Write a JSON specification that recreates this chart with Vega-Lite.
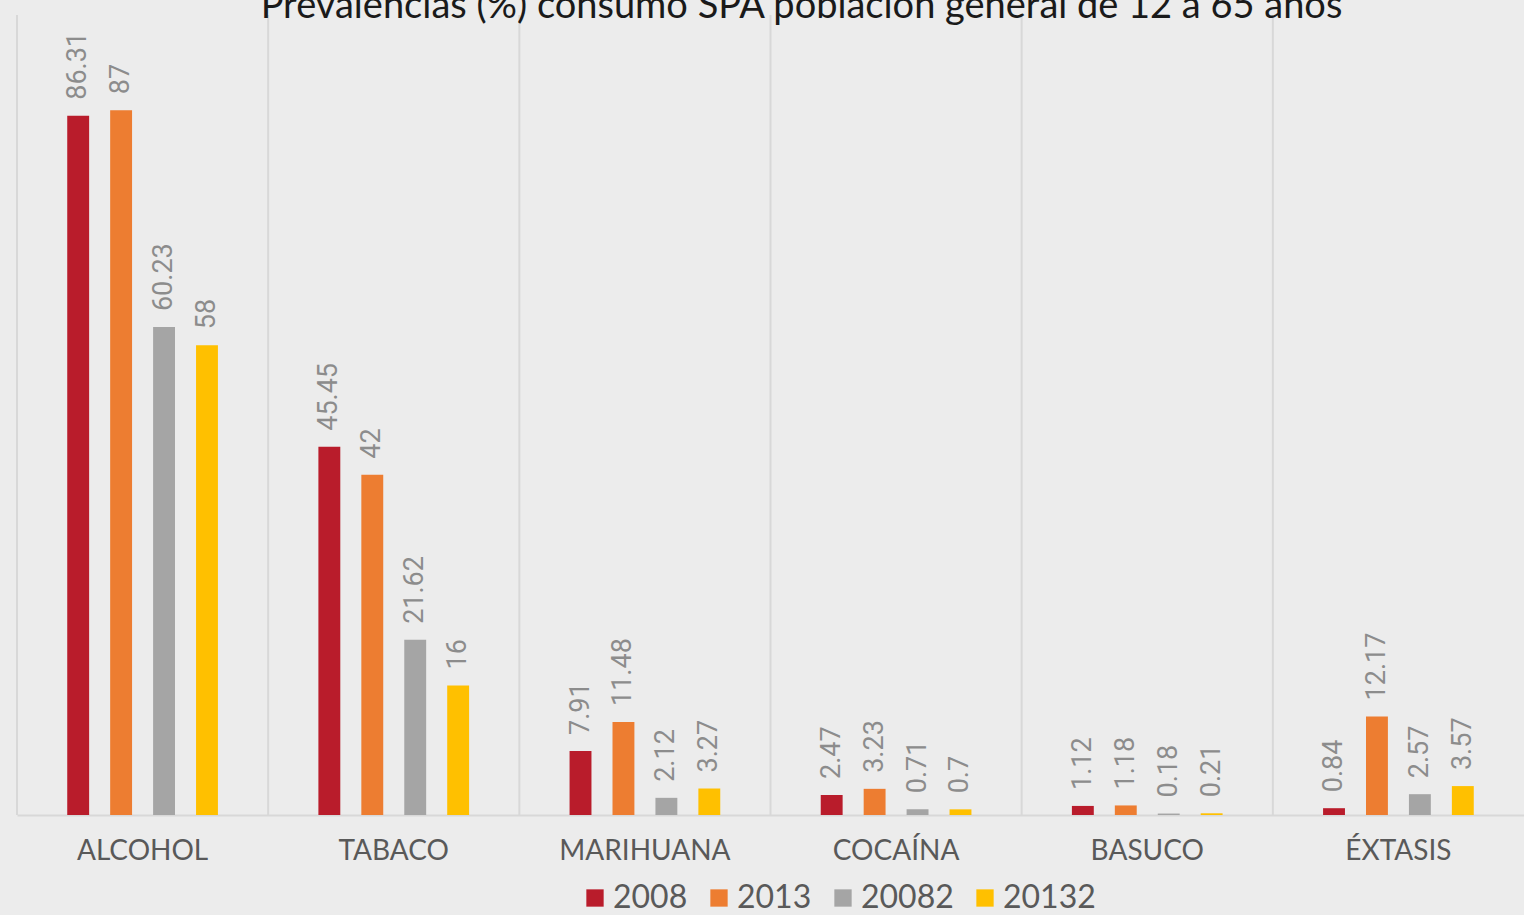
{
  "$schema": "https://vega.github.io/schema/vega-lite/v6.json",
  "width": 1507,
  "height": 800,
  "autosize": {"type": "none"},
  "padding": {"left": 17, "top": 15, "right": 0, "bottom": 100},
  "background": "#ececec",
  "title": {
    "text": "Prevalencias (%) consumo SPA población general de 12 a 65 años",
    "fontSize": 38,
    "font": "Lato",
    "fontWeight": "normal",
    "color": "#1a1a1a",
    "anchor": "middle",
    "offset": 0,
    "baseline": "alphabetic",
    "dx": 31,
    "dy": 42
  },
  "data": {
    "values": [
      {"sustancia": "ALCOHOL", "serie": "2008", "valor": 86.31},
      {"sustancia": "ALCOHOL", "serie": "2013", "valor": 87},
      {"sustancia": "ALCOHOL", "serie": "20082", "valor": 60.23},
      {"sustancia": "ALCOHOL", "serie": "20132", "valor": 58},
      {"sustancia": "TABACO", "serie": "2008", "valor": 45.45},
      {"sustancia": "TABACO", "serie": "2013", "valor": 42},
      {"sustancia": "TABACO", "serie": "20082", "valor": 21.62},
      {"sustancia": "TABACO", "serie": "20132", "valor": 16},
      {"sustancia": "MARIHUANA", "serie": "2008", "valor": 7.91},
      {"sustancia": "MARIHUANA", "serie": "2013", "valor": 11.48},
      {"sustancia": "MARIHUANA", "serie": "20082", "valor": 2.12},
      {"sustancia": "MARIHUANA", "serie": "20132", "valor": 3.27},
      {"sustancia": "COCAÍNA", "serie": "2008", "valor": 2.47},
      {"sustancia": "COCAÍNA", "serie": "2013", "valor": 3.23},
      {"sustancia": "COCAÍNA", "serie": "20082", "valor": 0.71},
      {"sustancia": "COCAÍNA", "serie": "20132", "valor": 0.7},
      {"sustancia": "BASUCO", "serie": "2008", "valor": 1.12},
      {"sustancia": "BASUCO", "serie": "2013", "valor": 1.18},
      {"sustancia": "BASUCO", "serie": "20082", "valor": 0.18},
      {"sustancia": "BASUCO", "serie": "20132", "valor": 0.21},
      {"sustancia": "ÉXTASIS", "serie": "2008", "valor": 0.84},
      {"sustancia": "ÉXTASIS", "serie": "2013", "valor": 12.17},
      {"sustancia": "ÉXTASIS", "serie": "20082", "valor": 2.57},
      {"sustancia": "ÉXTASIS", "serie": "20132", "valor": 3.57}
    ]
  },
  "layer": [
    {
      "transform": [{"filter": "datum.serie === '2008'"}],
      "mark": {"type": "rule", "color": "#d8d8d8", "strokeWidth": 2},
      "encoding": {
        "x": {
          "field": "sustancia",
          "type": "nominal",
          "sort": ["ALCOHOL", "TABACO", "MARIHUANA", "COCAÍNA", "BASUCO", "ÉXTASIS"],
          "bandPosition": -0.3333,
          "scale": {"paddingInner": 0.4, "paddingOuter": 0.2},
          "axis": {
            "title": null,
            "labelAngle": 0,
            "labelFont": "Lato",
            "labelFontSize": 28,
            "labelColor": "#595959",
            "labelPadding": 22,
            "ticks": false,
            "domainColor": "#d8d8d8",
            "domainWidth": 2,
            "grid": false
          }
        }
      }
    },
    {
      "mark": {"type": "bar"},
      "encoding": {
        "x": {
          "field": "sustancia",
          "type": "nominal",
          "sort": ["ALCOHOL", "TABACO", "MARIHUANA", "COCAÍNA", "BASUCO", "ÉXTASIS"],
          "scale": {"paddingInner": 0.4, "paddingOuter": 0.2},
          "axis": {
            "title": null,
            "labelAngle": 0,
            "labelFont": "Lato",
            "labelFontSize": 28,
            "labelColor": "#595959",
            "labelPadding": 22,
            "ticks": false,
            "domainColor": "#d8d8d8",
            "domainWidth": 2,
            "grid": false
          }
        },
        "xOffset": {
          "field": "serie",
          "type": "nominal",
          "sort": ["2008", "2013", "20082", "20132"],
          "scale": {"paddingInner": 0.49, "paddingOuter": 0}
        },
        "y": {
          "field": "valor",
          "type": "quantitative",
          "scale": {"domain": [0, 98.75], "nice": false},
          "axis": null
        },
        "color": {
          "field": "serie",
          "type": "nominal",
          "scale": {
            "domain": ["2008", "2013", "20082", "20132"],
            "range": ["#b91c2b", "#ed7d31", "#a5a5a5", "#ffc000"]
          },
          "legend": {
            "orient": "none",
            "direction": "horizontal",
            "legendX": 562,
            "legendY": 867,
            "title": null,
            "symbolType": "square",
            "symbolSize": 300,
            "symbolStrokeWidth": 0,
            "symbolOpacity": 1,
            "labelFont": "Lato",
            "labelFontSize": 32,
            "labelColor": "#595959",
            "labelOffset": 2,
            "columnPadding": 15
          }
        }
      }
    },
    {
      "mark": {
        "type": "text",
        "angle": 270,
        "align": "left",
        "baseline": "middle",
        "dx": 16,
        "font": "Roboto",
        "fontSize": 27,
        "color": "#8c8c8c"
      },
      "encoding": {
        "x": {
          "field": "sustancia",
          "type": "nominal",
          "sort": ["ALCOHOL", "TABACO", "MARIHUANA", "COCAÍNA", "BASUCO", "ÉXTASIS"]
        },
        "xOffset": {
          "field": "serie",
          "type": "nominal",
          "sort": ["2008", "2013", "20082", "20132"]
        },
        "y": {"field": "valor", "type": "quantitative"},
        "text": {"field": "valor", "type": "quantitative"}
      }
    }
  ],
  "config": {"view": {"stroke": null}}
}
